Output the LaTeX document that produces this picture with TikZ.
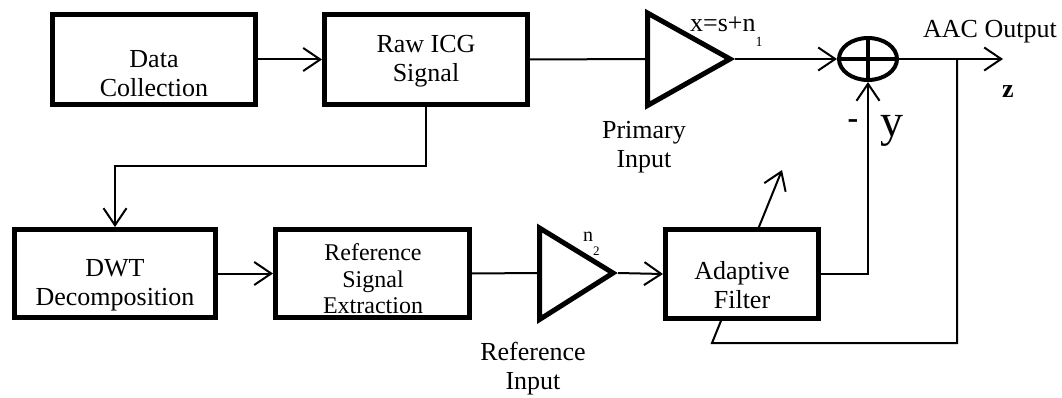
\documentclass[tikz,border=0pt]{standalone}
\usepackage{fontspec}
\setmainfont{Liberation Serif}
\usetikzlibrary{arrows.meta,shapes.geometric}
\begin{document}
\begin{tikzpicture}[x=1pt,y=-1pt,
  blockbox/.style={draw,line width=5pt,fill=white,inner sep=0pt},
  lbl/.style={align=center,inner sep=0pt,font=\fontsize{26}{29}\selectfont},
  wire/.style={line width=2pt},
  arr/.style={line width=2pt,-{Straight Barb[length=17pt,width=23pt]}},
  amp/.style={line width=5pt,line join=miter,fill=white}]
\useasboundingbox (0,0) rectangle (1062,398);

% points used by the wiring
\coordinate (tap)   at (957,59);
\coordinate (fbk)   at (712,343);
\coordinate (adapt) at (782,170);
\coordinate (bend)  at (115,166);
\coordinate (zout)  at (1003,59);

% error feedback into the adaptive filter (passes behind the block)
\draw[arr] (tap) |- (fbk) -- (adapt);

% blocks
\node[blockbox,minimum width=203pt,minimum height=90pt] (dc)  at (154,59.5) {};
\node[blockbox,minimum width=203pt,minimum height=90pt] (raw) at (426,59.5) {};
\node[blockbox,minimum width=201pt,minimum height=88pt] (dwt) at (115,273.5) {};
\node[blockbox,minimum width=194pt,minimum height=88pt] (rse) at (372.5,273.5) {};
\node[blockbox,minimum width=153pt,minimum height=89pt] (af)  at (742,274) {};

% amplifiers
\coordinate (p1in)  at (645,59);
\coordinate (p1out) at (735,59);
\draw[amp] (647.5,13) -- (647.5,105.5) -- (730,59) -- cycle;
\coordinate (p2in)  at (537,273);
\coordinate (p2out) at (618,273);
\draw[amp] (539.5,228) -- (539.5,319.5) -- (613,273) -- cycle;

% summing junction
\node[draw,ellipse,line width=4pt,minimum width=58pt,minimum height=42pt,
      inner sep=0pt,outer sep=2pt] (sum) at (868,59) {};
\draw[line width=4pt] (sum.north) -- (sum.south);
\draw[line width=4pt] (sum.west) -- (sum.east);

% block texts
\node[lbl] (dcT)  at (154,74)  {Data\\Collection};
\node[lbl] (rawT) at (426,61)  {Raw ICG\\Signal};
\node[lbl] (dwtT) at (115,285) {DWT\\Decomposition};
\node[lbl,font=\fontsize{24}{26.5}\selectfont] (rseT) at (373,279) {Reference\\Signal\\Extraction};
\node[lbl] (afT)  at (742,285) {Adaptive\\Filter};

% signal labels
\node[lbl] (pin) at (644,147) {Primary\\Input};
\node[lbl] (rin) at (533,369) {Reference\\Input};
\node[lbl,anchor=base] (aac) at (990,38) {AAC Output};
\node[lbl,anchor=base,font=\fontsize{26}{29}\bfseries] (z) at (1008,98) {z};
\node[lbl,font=\fontsize{32}{32}\bfseries] (minus) at (853,124) {-};
\node[lbl,anchor=base,font=\fontsize{46}{46}\selectfont] (y) at (892,137) {y};
\node[lbl,anchor=base west] (xeq) at (690,32)
  {x=s+n\raisebox{-15pt}{\fontsize{14}{14}\selectfont 1}};
\node[lbl,anchor=base west,font=\fontsize{20}{20}\selectfont] (n2) at (583,241)
  {n\raisebox{-14pt}{\fontsize{13}{13}\selectfont 2}};

% connectors
\draw[arr]  (dc.east) -- (raw.west);
\draw[wire] (raw.east) -- (p1in);
\draw[arr]  (p1out) -- (sum.west);
\draw[arr]  (sum.east) -- (zout);
\draw[arr]  (raw.south) |- (bend) -- (dwt.north);
\draw[arr]  (dwt.east) -- (rse.west);
\draw[wire] (rse.east) -- (p2in);
\draw[arr]  (p2out) -- (af.west);
\draw[arr]  (af.east) -| (sum.south);
\end{tikzpicture}
\end{document}
